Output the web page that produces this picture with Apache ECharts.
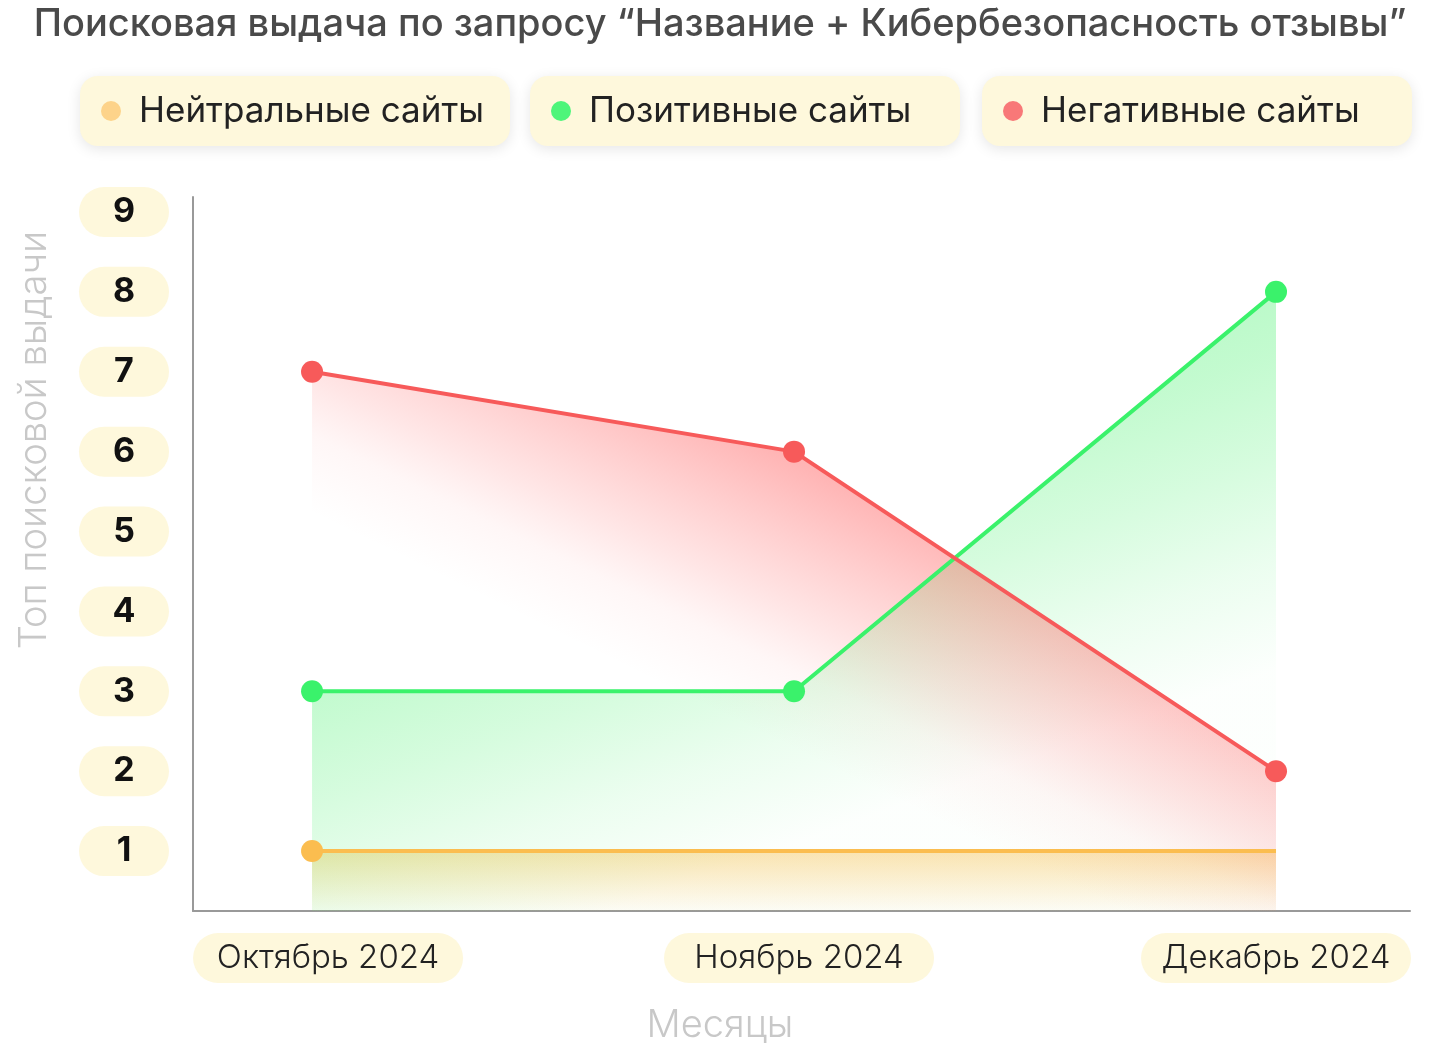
<!DOCTYPE html>
<html>
<head>
<meta charset="utf-8">
<script src="https://cdn.jsdelivr.net/npm/echarts@6/dist/echarts.min.js"></script>
<style>
  html, body { margin: 0; padding: 0; background: #fff; }
  #chart { width: 1440px; height: 1050px; }
</style>
</head>
<body>
<div id="chart"></div>
<script>
// данные
var months = ['Октябрь 2024', 'Ноябрь 2024', 'Декабрь 2024']
var yTicks = [1, 2, 3, 4, 5, 6, 7, 8, 9]
var neutral = [1, 1, 1]
var positive = [3, 3, 8]
var negative = [7, 6, 2]
var neutralDots = [true, false, false]   // у нейтральной линии точка только в начале

var FONT = 'Inter, "Noto Sans", sans-serif'

function pts(arr, dots) {
    var out = []
    for (var i = 0; i < arr.length; i++) {
        var item = { value: [i, arr[i]] }
        if (dots && !dots[i]) item.symbol = 'none'
        out.push(item)
    }
    return out
}

function legendBox(name, color, left) {
    return {
        left: left,
        top: 76,
        orient: 'horizontal',
        data: [{ name: name, itemStyle: { color: color } }],
        icon: 'circle',
        itemWidth: 20,
        itemHeight: 20,
        backgroundColor: '#fef8dc',
        borderRadius: 18,
        shadowBlur: 14,
        shadowColor: 'rgba(0,0,0,0.10)',
        shadowOffsetY: 3,
        padding: [17, 0, 17, 21],
        selectedMode: false,
        textStyle: {
            fontFamily: FONT,
            fontSize: 35,
            lineHeight: 36,
            color: '#222',
            width: 371,
            backgroundColor: 'rgba(0,0,0,0)',
            padding: [0, 0, 0, 13]
        }
    }
}

var chart = echarts.init(document.getElementById('chart'))

var option = {
    backgroundColor: '#fff',
    animation: false,
    title: {
        text: 'Поисковая выдача по запросу “Название + Кибербезопасность отзывы”',
        left: 'center',
        top: 1,
        textStyle: { fontFamily: FONT, fontSize: 38, fontWeight: 500, color: '#4a4a4a', padding: [0, 0, 0, 10] }
    },
    legend: [
        legendBox('Нейтральные сайты', '#fdd38a', 80),
        legendBox('Позитивные сайты', '#4ef57a', 530),
        legendBox('Негативные сайты', '#f87878', 982)
    ],
    grid: { left: 193, right: 30, top: 197, bottom: 138 },
    xAxis: {
        type: 'value',
        min: -0.247,
        max: 2.278,
        splitLine: { show: false },
        axisTick: { show: false },
        axisLine: { show: true, onZero: false, lineStyle: { color: '#999', width: 2 } },
        axisLabel: {
            customValues: [0, 1, 2],
            margin: 22,
            formatter: function (v) {
                var i = Math.round(v)
                // первую подпись слегка сдвигаем вправо, как в макете
                var pre = i === 0 ? '{s0|}' : (i === 1 ? '{s1|}' : '')
                return pre + '{p|' + months[i] + '}'
            },
            rich: {
                s0: { width: 32 },
                s1: { width: 10 },
                p: {
                    backgroundColor: '#fef8dc',
                    borderRadius: 25,
                    width: 270,
                    height: 50,
                    lineHeight: 50,
                    align: 'center',
                    fontFamily: FONT,
                    fontSize: 33,
                    fontWeight: 300,
                    color: '#222'
                }
            }
        },
        name: 'Месяцы',
        nameLocation: 'middle',
        nameGap: 96,
        nameTextStyle: { fontFamily: FONT, fontSize: 38, fontWeight: 300, color: '#c8c8c8', padding: [0, 163, 0, 0] }
    },
    yAxis: {
        type: 'value',
        min: 0.25,
        max: 9.1875,
        splitLine: { show: false },
        axisTick: { show: false },
        axisLine: { show: true, onZero: false, lineStyle: { color: '#999', width: 2 } },
        axisLabel: {
            customValues: yTicks,
            margin: 24,
            formatter: function (v) { return '{p|' + v + '}' },
            rich: {
                p: {
                    backgroundColor: '#fef8dc',
                    borderRadius: 25,
                    width: 90,
                    height: 50,
                    lineHeight: 50,
                    align: 'center',
                    fontFamily: FONT,
                    fontSize: 34,
                    fontWeight: 'bold',
                    color: '#111'
                }
            }
        },
        name: 'Топ поисковой выдачи',
        nameLocation: 'middle',
        nameGap: 139,
        nameTextStyle: { fontFamily: FONT, fontSize: 38, fontWeight: 300, color: '#c8c8c8', padding: [0, 0, 0, 228] }
    },
    series: [
        {
            name: 'Нейтральные сайты',
            type: 'line',
            data: pts(neutral, neutralDots),
            symbol: 'circle',
            symbolSize: 22,
            itemStyle: { color: '#fbbd4f' },
            lineStyle: { width: 4, color: '#fbbd4f' },
            areaStyle: {
                color: new echarts.graphic.LinearGradient(0, 0, 0, 1, [
                    { offset: 0, color: 'rgba(248,190,70,0.6)' },
                    { offset: 1, color: 'rgba(248,190,70,0.06)' }
                ])
            }
        },
        {
            name: 'Позитивные сайты',
            type: 'line',
            data: pts(positive),
            symbol: 'circle',
            symbolSize: 22,
            itemStyle: { color: '#3af26b' },
            lineStyle: { width: 4, color: '#3af26b' },
            areaStyle: {
                // градиент по диагонали, параллельно линии "сильного" цвета
                color: new echarts.graphic.LinearGradient(-0.021, 0.566, 0.106, 1.113, [
                    { offset: 0, color: 'rgba(60,240,100,0.5)' },
                    { offset: 0.17, color: 'rgba(60,240,100,0.44)' },
                    { offset: 0.44, color: 'rgba(60,240,100,0.3)' },
                    { offset: 0.72, color: 'rgba(60,240,100,0.14)' },
                    { offset: 1, color: 'rgba(60,240,100,0.02)' }
                ])
            }
        },
        {
            name: 'Негативные сайты',
            type: 'line',
            data: pts(negative),
            symbol: 'circle',
            symbolSize: 22,
            itemStyle: { color: '#f75a5a' },
            lineStyle: { width: 4, color: '#f75a5a' },
            areaStyle: {
                color: new echarts.graphic.LinearGradient(0.064, -0.219, -0.055, 0.215, [
                    { offset: 0, color: 'rgba(255,60,60,0.55)' },
                    { offset: 0.54, color: 'rgba(255,80,80,0.2)' },
                    { offset: 0.73, color: 'rgba(255,100,100,0.08)' },
                    { offset: 1, color: 'rgba(255,120,120,0)' }
                ])
            }
        }
    ]
}

chart.setOption(option)
</script>
</body>
</html>
